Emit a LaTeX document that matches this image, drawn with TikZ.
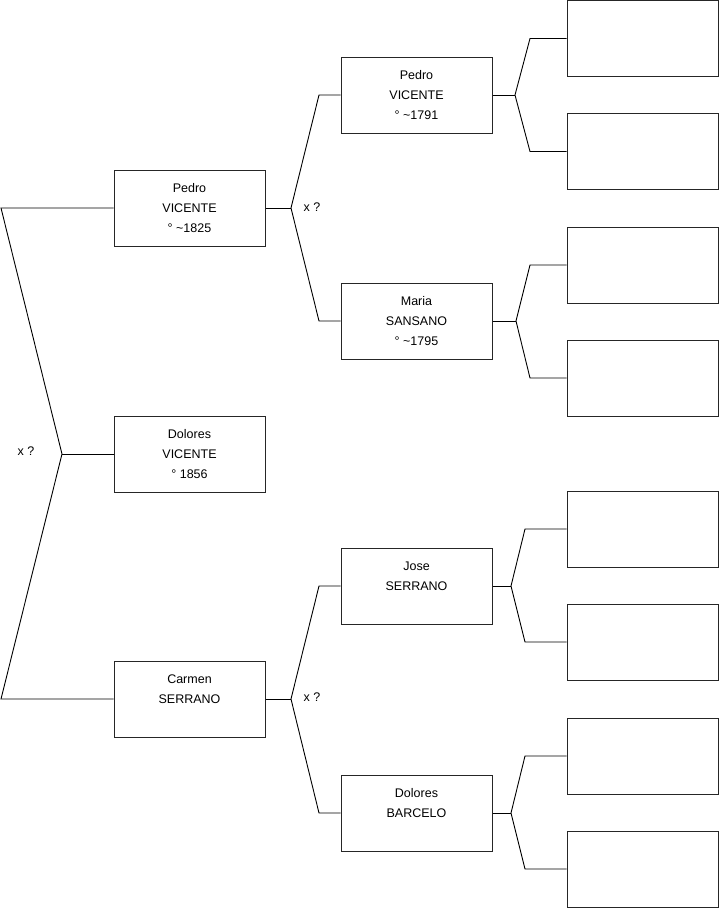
\documentclass[tikz,border=0pt]{standalone}
\usepackage{fontspec}
\setmainfont{Liberation Sans}
\usepackage{tikz}
\usetikzlibrary{positioning,calc}

\begin{document}
\begin{tikzpicture}[
      x=1pt, y=-1pt,
      bx/.style={draw=black!85, line width=1pt, minimum width=151pt, minimum height=76pt,
                 inner sep=0pt, align=center, font=\fontsize{12.5}{20}\selectfont},
      ln/.style={draw=black, line width=0.9pt},
      xq/.style={font=\fontsize{12.5}{20}\selectfont, inner sep=0pt}
    ]
      \useasboundingbox (0,0) rectangle (719,908);
      % Generation 1
      \node[bx] (pv1825) at (189.5,208) {Pedro\\VICENTE\\° \textasciitilde1825};
      \node[bx] (dv1856) at (189.5,454) {Dolores\\VICENTE\\° 1856};
      \node[bx] (cs) at (189.5,699) {Carmen\\SERRANO\\~};
      % Generation 2
      \node[bx] (pv1791) at (416.5,95) {Pedro\\VICENTE\\° \textasciitilde1791};
      \node[bx] (ms1795) at (416.5,321) {Maria\\SANSANO\\° \textasciitilde1795};
      \node[bx] (js) at (416.5,586) {Jose\\SERRANO\\~};
      \node[bx] (db) at (416.5,813) {Dolores\\BARCELO\\~};
      % Generation 3 (empty)
      \node[bx] (r1) at (642.5,38.5) {};
      \node[bx] (r2) at (642.5,151.5) {};
      \node[bx] (r3) at (642.5,265) {};
      \node[bx] (r4) at (642.5,378) {};
      \node[bx] (r5) at (642.5,529) {};
      \node[bx] (r6) at (642.5,642) {};
      \node[bx] (r7) at (642.5,756) {};
      \node[bx] (r8) at (642.5,869) {};
      % Marriage marks
      \node[xq] (xq0) at (26,451) {x ?};
      \node[xq] (xq1) at (312,207) {x ?};
      \node[xq] (xq2) at (312,697) {x ?};
      % Junctions
      \coordinate (lt) at (1,208);
      \coordinate (lj) at (62,454);
      \coordinate (lb) at (1,699);
      \coordinate (ja) at (291,208);
      \coordinate (ja1) at (319,95);
      \coordinate (ja2) at (319,321);
      \coordinate (jb) at (291,699);
      \coordinate (jb1) at (319,586);
      \coordinate (jb2) at (319,813);
      \coordinate (k1) at (515,95);
      \coordinate (k1a) at (530,38.5);
      \coordinate (k1b) at (530,151.5);
      \coordinate (k2) at (516,321);
      \coordinate (k2a) at (530,265);
      \coordinate (k2b) at (530,378);
      \coordinate (k3) at (511,586);
      \coordinate (k3a) at (525,529);
      \coordinate (k3b) at (525,642);
      \coordinate (k4) at (511,813);
      \coordinate (k4a) at (525,756);
      \coordinate (k4b) at (525,869);
      % Connectors
      \draw[ln] (pv1825.west) -- (lt) -- (lj) -- (lb) -- (cs.west);
      \draw[ln] (lj) -- (dv1856.west);
      \draw[ln] (pv1825.east) -- (ja);
      \draw[ln] (pv1791.west) -- (ja1) -- (ja) -- (ja2) -- (ms1795.west);
      \draw[ln] (cs.east) -- (jb);
      \draw[ln] (js.west) -- (jb1) -- (jb) -- (jb2) -- (db.west);
      \draw[ln] (pv1791.east) -- (k1);
      \draw[ln] (r1.west) -- (k1a) -- (k1) -- (k1b) -- (r2.west);
      \draw[ln] (ms1795.east) -- (k2);
      \draw[ln] (r3.west) -- (k2a) -- (k2) -- (k2b) -- (r4.west);
      \draw[ln] (js.east) -- (k3);
      \draw[ln] (r5.west) -- (k3a) -- (k3) -- (k3b) -- (r6.west);
      \draw[ln] (db.east) -- (k4);
      \draw[ln] (r7.west) -- (k4a) -- (k4) -- (k4b) -- (r8.west);
    \end{tikzpicture}
\end{document}
